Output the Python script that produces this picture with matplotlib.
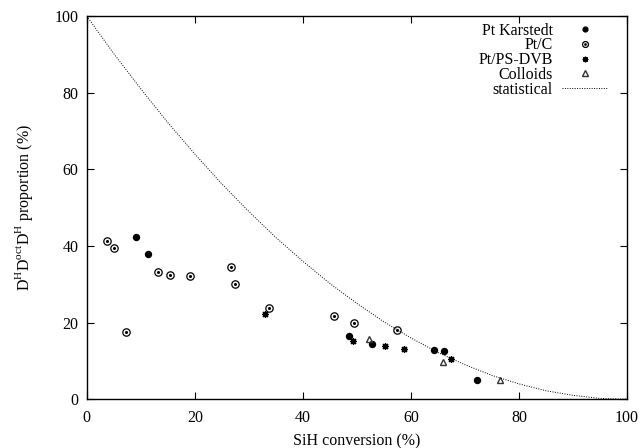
import matplotlib
matplotlib.use("Agg")
import matplotlib.pyplot as plt
from matplotlib.legend_handler import HandlerTuple

plt.rcParams["font.family"] = "Liberation Serif"
plt.rcParams["mathtext.fontset"] = "custom"
plt.rcParams["mathtext.rm"] = "Liberation Serif"
plt.rcParams["font.size"] = 11.5

# data (SiH conversion %, proportion %)
karstedt_x = [9.1, 11.3, 48.5, 52.8, 64.3, 66.2, 72.2]
karstedt_y = [42.3, 37.9, 16.4, 14.4, 12.8, 12.5, 5.0]

ptc_x = [3.8, 5.1, 7.2, 13.1, 15.4, 19.1, 26.7, 27.5, 33.8, 45.8, 49.5, 57.5]
ptc_y = [41.3, 39.5, 17.6, 33.2, 32.5, 32.1, 34.4, 30.1, 23.7, 21.7, 19.9, 18.1]

psdvb_x = [33.0, 49.2, 55.2, 58.8, 67.5]
psdvb_y = [22.2, 15.2, 13.8, 13.0, 10.4]

colloid_x = [52.2, 65.9, 76.5]
colloid_y = [15.7, 9.8, 5.1]

stat_x = [0, 5, 10, 15, 20, 25, 30, 35, 40, 45, 50, 55, 60, 65, 70, 75, 80, 85, 90, 95, 100]
stat_y = [100, 90.2, 81, 72.2, 64, 56.2, 49, 42.2, 36, 30.2, 25, 20.2, 16, 12.2, 9, 6.2, 4, 2.2, 1, 0.2, 0]

fig = plt.figure(figsize=(6.43, 4.48), dpi=100)
ax = fig.add_axes([0.135, 0.109, 0.84, 0.855])

# --- points ---
h1, = ax.plot(karstedt_x, karstedt_y, "o", ms=4.3, color="black", ls="none")
h2a, = ax.plot(ptc_x, ptc_y, "o", ms=5.3, mfc="none", mec="black", mew=0.9, ls="none")
h2b, = ax.plot(ptc_x, ptc_y, "o", ms=1.2, color="black", ls="none")
h3, = ax.plot(psdvb_x, psdvb_y, marker=(8, 2, 0), ms=5, color="black", mew=0.9, ls="none")
h4, = ax.plot(colloid_x, colloid_y, "^", ms=5, mfc="none", mec="#333333", mew=1.0, ls="none")

# --- statistical curve ---
h5, = ax.plot(stat_x, stat_y, color="black", lw=0.7, ls=(0, (1, 1.5)))

ax.set_xlim(0, 100)
ax.set_ylim(0, 100)
ax.set_xticks(range(0, 101, 20))
ax.set_yticks(range(0, 101, 20))
ax.tick_params(direction="in", top=True, right=True, length=5, width=0.8, pad=6)
ax.tick_params(axis="x", pad=8)
for s in ax.spines.values():
    s.set_linewidth(1.0)

ax.set_xlabel("SiH conversion (%)", labelpad=5)
ax.set_ylabel(r"D$^{\rm H}$D$^{\rm oct}$D$^{\rm H}$ proportion (%)", labelpad=14)

leg = ax.legend([h1, (h2a, h2b), h3, h4, h5],
                ["Pt Karstedt", "Pt/C", "Pt/PS-DVB", "Colloids", "statistical"],
                handler_map={tuple: HandlerTuple(ndivide=1, pad=0)},
                loc="upper right", bbox_to_anchor=(1.0, 1.035),
                frameon=False, markerfirst=False,
                handlelength=2.8, handletextpad=0.6, labelspacing=-0.08,
                borderaxespad=0.85, numpoints=1, markerscale=0.8)
# right-align the labels like gnuplot
for col in leg._legend_box._children[-1]._children:
    col.align = "right"

plt.savefig("out.png", dpi=100)
